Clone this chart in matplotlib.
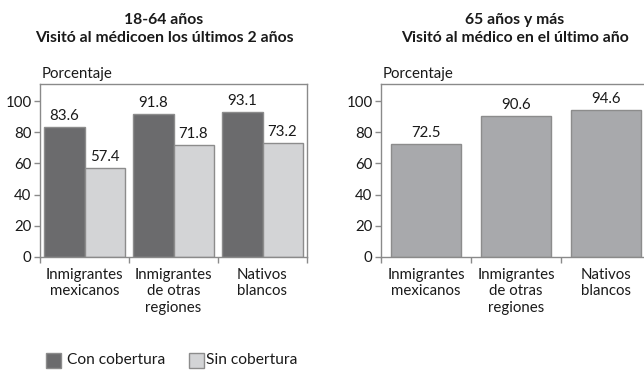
import matplotlib
matplotlib.use("Agg")
import matplotlib.pyplot as plt
from matplotlib.patches import Rectangle
import numpy as np

plt.rcParams['font.family'] = ['Lato', 'DejaVu Sans']

categories = ["Inmigrantes\nmexicanos", "Inmigrantes\nde otras\nregiones", "Nativos\nblancos"]
con_cobertura = [83.6, 91.8, 93.1]
sin_cobertura = [57.4, 71.8, 73.2]
mayores = [72.5, 90.6, 94.6]
yticks = [0, 20, 40, 60, 80, 100]

title_left = "18-64 años\nVisitó al médicoen los últimos 2 años"
title_right = "65 años y más\nVisitó al médico en el último año"

dark = "#6b6b6d"
light = "#d3d4d6"
mid = "#a8a9ac"
edge = "#8c8c8c"
spine_c = "#8a8a8a"
txt = "#1a1a1a"
fs = 10.8

fig = plt.figure(figsize=(6.44, 3.70), dpi=100)
ax1 = fig.add_axes([40/644, 113/370, 267/644, 173/370])
ax2 = fig.add_axes([381/644, 113/370, 270/644, 173/370])


def style(ax):
    ax.set_xlim(0, 3)
    ax.set_ylim(0, 111)
    ax.set_yticks(yticks)
    ax.set_yticklabels([str(v) for v in yticks], fontsize=fs, color=txt)
    ax.set_xticks([0, 1, 2, 3])
    ax.set_xticklabels([])
    ax.set_xticks([0.5, 1.5, 2.5], minor=True)
    ax.set_xticklabels(categories, minor=True, fontsize=fs, color=txt,
                       linespacing=1.2, va="top")
    ax.tick_params(axis="x", which="minor", length=0, pad=8)
    ax.tick_params(axis="both", which="major", length=4, width=1,
                   color=spine_c, pad=2)
    for s in ax.spines.values():
        s.set_color(spine_c)
        s.set_linewidth(1)
    ax.text(0.005, 1.02, "Porcentaje", transform=ax.transAxes,
            fontsize=fs, color=txt, ha="left", va="bottom")


x = np.arange(3) + 0.5
w = 0.45
ax1.bar(x - w/2, con_cobertura, w, color=dark, edgecolor=edge, linewidth=1)
ax1.bar(x + w/2, sin_cobertura, w, color=light, edgecolor=edge, linewidth=1)
for xi, v in zip(x - w/2, con_cobertura):
    ax1.text(xi, v + 2.5, f"{v:.1f}", ha="center", va="bottom", fontsize=fs, color=txt)
for xi, v in zip(x + w/2, sin_cobertura):
    ax1.text(xi, v + 2.5, f"{v:.1f}", ha="center", va="bottom", fontsize=fs, color=txt)
style(ax1)

w2 = 0.78
ax2.bar(x, mayores, w2, color=mid, edgecolor=edge, linewidth=1)
for xi, v in zip(x, mayores):
    ax2.text(xi, v + 2.5, f"{v:.1f}", ha="center", va="bottom", fontsize=fs, color=txt)
style(ax2)

fig.text(164/644, 1 - 29/370, title_left, ha="center", va="center",
         fontsize=11.3, fontweight="bold", color=txt, linespacing=1.35)
fig.text(515/644, 1 - 29/370, title_right, ha="center", va="center",
         fontsize=11.3, fontweight="bold", color=txt, linespacing=1.35)

# legend
fig.patches.append(Rectangle((46/644, 1 - 368/370), 15/644, 15/370,
                             transform=fig.transFigure, facecolor=dark,
                             edgecolor=edge, linewidth=1))
fig.text(67/644, 1 - 360/370, "Con cobertura", ha="left", va="center",
         fontsize=11.2, color=txt)
fig.patches.append(Rectangle((189/644, 1 - 368/370), 15/644, 15/370,
                             transform=fig.transFigure, facecolor=light,
                             edgecolor=edge, linewidth=1))
fig.text(206/644, 1 - 360/370, "Sin cobertura", ha="left", va="center",
         fontsize=11.2, color=txt)

fig.savefig("out.png", dpi=100)
